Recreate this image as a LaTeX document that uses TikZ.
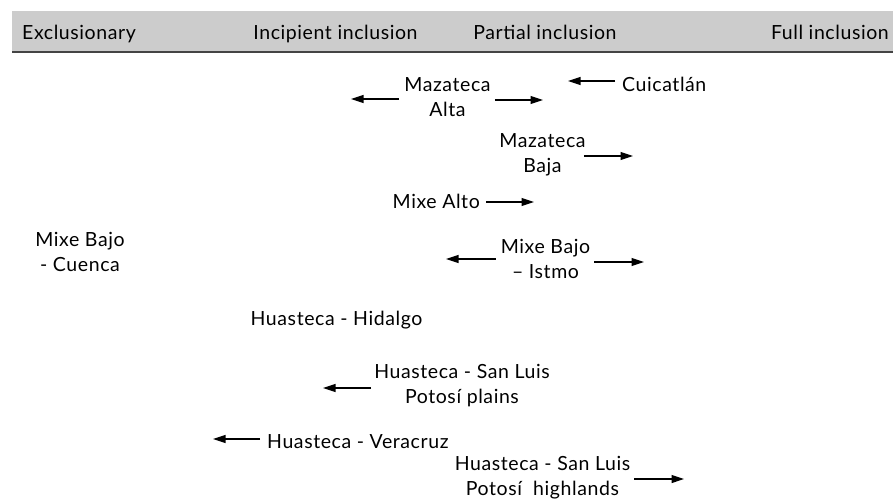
\documentclass[tikz,border=0pt]{standalone}
\usepackage{fontspec}
\setmainfont[LetterSpace=3]{Lato}
\usetikzlibrary{arrows.meta}
\definecolor{bandgray}{RGB}{204,204,204}
\definecolor{rulegray}{RGB}{68,68,68}
\begin{document}
\begin{tikzpicture}[x=1pt,y=-1pt,
  lbl/.style={font=\fontsize{19.5}{25}\selectfont, inner sep=0pt, anchor=base, align=center},
  hdr/.style={font=\fontsize{19.5}{25}\selectfont, inner sep=0pt, anchor=base},
  arr/.style={line width=1.1pt, -{Triangle[length=12.5pt,width=8pt]}}]
\useasboundingbox (0,0) rectangle (893,499);
% header band
\fill[bandgray] (12,11) rectangle (893,51);
\draw[rulegray, line width=2.5pt] (12,52) -- (893,52);
\node[hdr] (h1) at (79,39) {Exclusionary};
\node[hdr] (h2) at (335.5,39) {Incipient inclusion};
\node[hdr] (h3) at (545,39) {Partial inclusion};
\node[hdr, anchor=base east] (h4) at (889,39) {Full inclusion};
% labels (base anchor = baseline of the last line)
\node[lbl] (mazalta) at (447.5,116) {Mazateca\\Alta};
\node[lbl, anchor=base west] (cuica) at (622,91) {Cuicatlán};
\node[lbl] (mazbaja) at (542.5,172) {Mazateca\\Baja};
\node[lbl, anchor=base east] (mixealto) at (480,208) {Mixe Alto};
\node[lbl] (mixeistmo) at (545.5,278) {Mixe Bajo\\– Istmo};
\node[lbl] (mixecuenca) at (80,271) {Mixe Bajo\\- Cuenca};
\node[lbl] (hidalgo) at (336.5,325) {Huasteca - Hidalgo};
\node[lbl] (plains) at (462,403) {Huasteca - San Luis\\Potosí plains};
\node[lbl, anchor=base west] (veracruz) at (267,448) {Huasteca - Veracruz};
\node[lbl] (highlands) at (542.5,495) {Huasteca - San Luis\\Potosí~ highlands};
% arrow heads
\coordinate (maL) at (351,99);
\coordinate (maR) at (543,100);
\coordinate (cuL) at (568,81);
\coordinate (mbR) at (633,156);
\coordinate (mxR) at (534,202);
\coordinate (miL) at (446,259);
\coordinate (miR) at (644,262);
\coordinate (plL) at (323,388);
\coordinate (veL) at (213,439);
\coordinate (hiR) at (684,479);
% arrows
\draw[arr] ([xshift=-5pt]mazalta.west |- maL) -- (maL);
\draw[arr] ([xshift=4pt]mazalta.east |- maR) -- (maR);
\draw[arr] ([xshift=-7pt]cuica.west |- cuL) -- (cuL);
\draw[arr] ([xshift=-2pt]mazbaja.east |- mbR) -- (mbR);
\draw[arr] ([xshift=6pt]mixealto.east |- mxR) -- (mxR);
\draw[arr] ([xshift=-5pt]mixeistmo.west |- miL) -- (miL);
\draw[arr] ([xshift=4pt]mixeistmo.east |- miR) -- (miR);
\draw[arr] ([xshift=-3pt]plains.west |- plL) -- (plL);
\draw[arr] ([xshift=-7pt]veracruz.west |- veL) -- (veL);
\draw[arr] ([xshift=4pt]highlands.east |- hiR) -- (hiR);
\end{tikzpicture}
\end{document}
